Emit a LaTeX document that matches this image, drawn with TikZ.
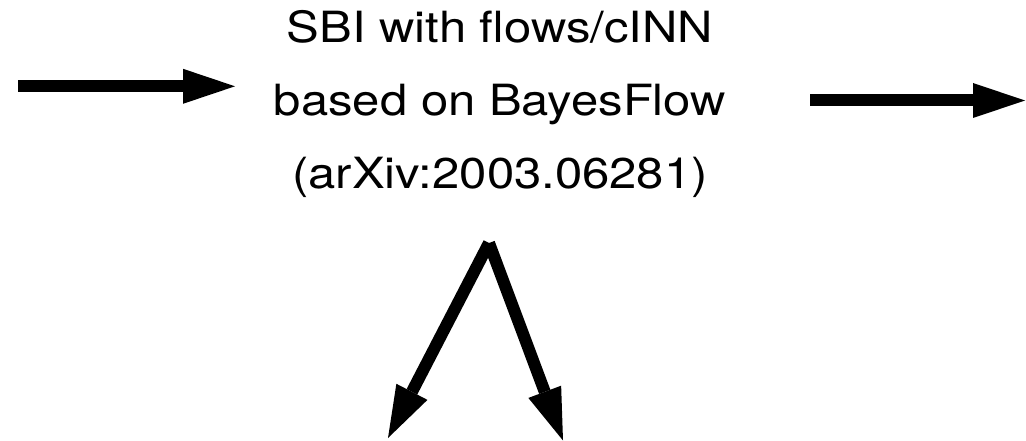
\documentclass[tikz,border=0pt]{standalone}
\usepackage{fontspec}
\setmainfont{TeX Gyre Heros}[FakeStretch=1.14]
\usetikzlibrary{arrows.meta}
\begin{document}
\begin{tikzpicture}[x=1pt,y=-1pt,
  flow/.style={line width=12pt,
    -{Triangle[length=52pt,width=35pt,line width=0pt]}},
  label/.style={align=center,inner sep=0pt,
    font=\fontsize{43}{73}\selectfont}]
  \useasboundingbox (0,0) rectangle (1026,441);

  % method description
  \node[label,anchor=base] (sbi) at (500,188.3)
    {SBI with flows/cINN\\based on BayesFlow\\(arXiv:2003.06281)};

  % incoming and outgoing arrows
  \coordinate (inA) at (18,86.3);
  \coordinate (inB) at (235,86.3);
  \coordinate (outA) at (810,100.5);
  \coordinate (outB) at (1025,100.5);
  \draw[flow] (inA) -- (inB);
  \draw[flow] (outA) -- (outB);

  % branching into two outputs
  \coordinate (fork) at (489,243);
  \coordinate (left) at (388,438);
  \coordinate (right) at (563,440.5);
  \draw[flow] (fork) -- (left);
  \draw[flow] (fork) -- (right);
\end{tikzpicture}
\end{document}
